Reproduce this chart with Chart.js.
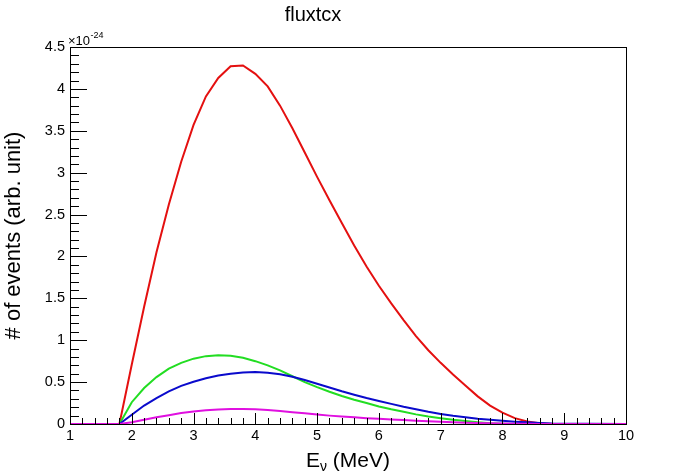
<!DOCTYPE html>
<html>
<head>
<meta charset="utf-8">
<script src="https://cdn.jsdelivr.net/npm/chart.js@4.4.1/dist/chart.umd.min.js"></script>
<style>
    html, body { margin: 0; padding: 0; background: #fff; }
</style>
</head>
<body>
<canvas id="fluxChart" width="696" height="472"></canvas>
<script>
// Neutrino energy bins (MeV)
const energy = [1.0, 1.8, 2.0, 2.2, 2.4, 2.6, 2.8, 3.0, 3.2, 3.4, 3.6, 3.8,
    4.0, 4.2, 4.4, 4.6, 4.8, 5.0, 5.2, 5.4, 5.6, 5.8, 6.0, 6.2, 6.4, 6.6, 6.8,
    7.0, 7.2, 7.4, 7.6, 7.8, 8.0, 8.2, 8.4, 8.6, 8.8, 10.0];

// # of events, in units of 1e-24
const fluxRed = [0, 0, 0.71, 1.40, 2.05, 2.62, 3.13, 3.57, 3.91, 4.13, 4.27, 4.28,
    4.18, 4.03, 3.80, 3.53, 3.24, 2.95, 2.67, 2.40, 2.13, 1.88, 1.65, 1.44, 1.24, 1.05, 0.88,
    0.73, 0.59, 0.46, 0.33, 0.22, 0.135, 0.07, 0.03, 0.01, 0, 0];
const fluxGreen = [0, 0, 0.26, 0.43, 0.56, 0.66, 0.73, 0.78, 0.81, 0.82, 0.815, 0.79,
    0.75, 0.70, 0.64, 0.57, 0.50, 0.44, 0.385, 0.335, 0.29, 0.25, 0.21, 0.175, 0.145, 0.115, 0.09,
    0.07, 0.05, 0.035, 0.02, 0.01, 0.004, 0, 0, 0, 0, 0];
const fluxBlue = [0, 0, 0.11, 0.22, 0.31, 0.39, 0.455, 0.505, 0.545, 0.578, 0.60, 0.615,
    0.62, 0.612, 0.595, 0.565, 0.525, 0.48, 0.435, 0.39, 0.35, 0.31, 0.275, 0.24, 0.205, 0.175, 0.145,
    0.12, 0.098, 0.08, 0.063, 0.05, 0.038, 0.028, 0.02, 0.012, 0.005, 0];
const fluxMagenta = [0, 0, 0.02, 0.05, 0.08, 0.105, 0.13, 0.15, 0.163, 0.173, 0.178, 0.178,
    0.175, 0.167, 0.155, 0.14, 0.127, 0.113, 0.10, 0.09, 0.08, 0.07, 0.062, 0.054, 0.047, 0.04, 0.033,
    0.027, 0.021, 0.016, 0.012, 0.008, 0.005, 0.003, 0.002, 0.001, 0, 0];

const FONT = '"Liberation Sans", Arial, Helvetica, sans-serif';

const toPoints = vals => energy.map((e, i) => ({ x: e, y: vals[i] }));

// ROOT-style frame: box, inner ticks, axis titles, exponent
const rootFrame = {
    id: 'rootFrame',
    afterDatasetsDraw(chart) {
        const { ctx, chartArea: a, scales: { x, y } } = chart;
        ctx.save();
        ctx.strokeStyle = '#000';
        ctx.lineWidth = 1;
        ctx.beginPath();
        // x ticks every 0.2, major every 1
        for (let i = 0; i <= 45; i++) {
            const px = Math.round(x.getPixelForValue(1 + i * 0.2)) + 0.5;
            const len = i % 5 === 0 ? 11 : 6;
            ctx.moveTo(px, a.bottom);
            ctx.lineTo(px, a.bottom - len);
        }
        // y ticks every 0.1, major every 0.5
        for (let i = 0; i <= 45; i++) {
            const py = Math.round(y.getPixelForValue(i * 0.1)) + 0.5;
            const len = i % 5 === 0 ? 17 : 9;
            ctx.moveTo(a.left, py);
            ctx.lineTo(a.left + len, py);
        }
        ctx.stroke();
        ctx.strokeRect(a.left + 0.5, a.top + 0.5, a.right - a.left, a.bottom - a.top);

        ctx.fillStyle = '#000';
        ctx.textBaseline = 'alphabetic';

        // exponent of the y axis
        ctx.textAlign = 'left';
        ctx.font = '13px ' + FONT;
        ctx.fillText('\u00d710', a.left - 2, a.top - 2);
        const w10 = ctx.measureText('\u00d710').width;
        ctx.font = '9px ' + FONT;
        ctx.fillText('-24', a.left - 2 + w10 + 0.5, a.top - 9);

        // x axis title: E_nu (MeV)
        ctx.font = '21px ' + FONT;
        const wE = ctx.measureText('E').width;
        const wRest = ctx.measureText(' (MeV)').width;
        ctx.font = '14px ' + FONT;
        const wNu = ctx.measureText('\u03bd').width;
        let tx = (a.left + a.right) / 2 - (wE + wNu + wRest) / 2;
        const ty = 467;
        ctx.font = '21px ' + FONT;
        ctx.fillText('E', tx, ty);
        tx += wE;
        ctx.font = '14px ' + FONT;
        ctx.fillText('\u03bd', tx, ty + 4);
        tx += wNu;
        ctx.font = '21px ' + FONT;
        ctx.fillText(' (MeV)', tx, ty);

        // y axis title
        ctx.translate(20, (a.top + a.bottom) / 2);
        ctx.rotate(-Math.PI / 2);
        ctx.textAlign = 'center';
        ctx.font = '22px ' + FONT;
        ctx.fillText('# of events (arb. unit)', 0, 0);
        ctx.restore();
    }
};

const ctx = document.getElementById('fluxChart').getContext('2d');
const fluxChart = new Chart(ctx, {
    type: 'line',
    data: {
        datasets: [
            { label: 'red', data: toPoints(fluxRed), borderColor: '#e41010', order: 3 },
            { label: 'green', data: toPoints(fluxGreen), borderColor: '#22dd22', order: 2 },
            { label: 'blue', data: toPoints(fluxBlue), borderColor: '#0a0acc', order: 1 },
            { label: 'magenta', data: toPoints(fluxMagenta), borderColor: '#e010e0', order: 0 }
        ]
    },
    options: {
        responsive: false,
        animation: false,
        layout: { padding: { left: 0, right: 70, top: 0, bottom: 0 } },
        elements: {
            point: { radius: 0 },
            line: { borderWidth: 2, tension: 0, fill: false }
        },
        plugins: {
            legend: { display: false },
            tooltip: { enabled: false },
            title: {
                display: true,
                text: 'fluxtcx',
                color: '#000',
                font: { family: FONT, size: 20, weight: 'normal' },
                padding: { top: 3, bottom: 20 }
            }
        },
        scales: {
            x: {
                type: 'linear',
                min: 1,
                max: 10,
                grid: { display: false, drawTicks: false },
                border: { display: false },
                ticks: {
                    stepSize: 1,
                    padding: 3,
                    maxRotation: 0,
                    color: '#000',
                    font: { family: FONT, size: 14.5 }
                },
                afterFit: s => { s.height = 48; }
            },
            y: {
                min: 0,
                max: 4.5,
                grid: { display: false, drawTicks: false },
                border: { display: false },
                ticks: {
                    stepSize: 0.5,
                    padding: 5,
                    color: '#000',
                    font: { family: FONT, size: 14.5 },
                    callback: v => String(Math.round(v * 10) / 10)
                },
                afterFit: s => { s.width = 70; }
            }
        }
    },
    plugins: [rootFrame]
});
</script>
</body>
</html>
